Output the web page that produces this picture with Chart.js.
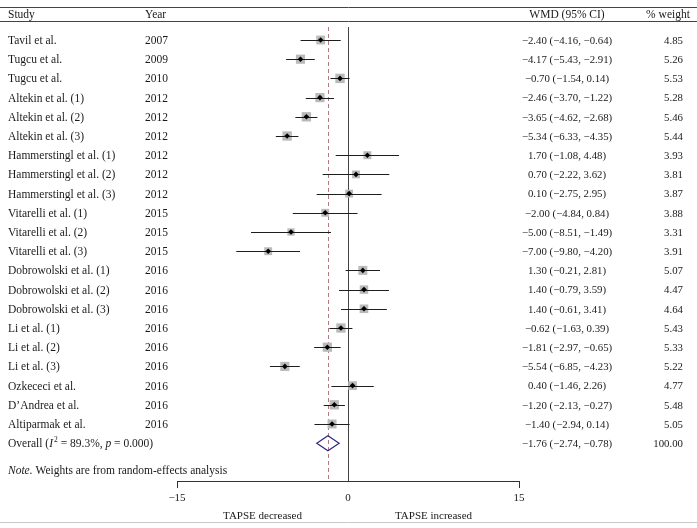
<!DOCTYPE html>
<html lang="en">
<head>
  <meta charset="UTF-8">
  <title>Forest plot TAPSE</title>
  <script src="https://cdn.jsdelivr.net/npm/chart.js"></script>
  <style>
    body { margin: 0; background: #fff; }
    #wrap { width: 697px; height: 528px; }
  </style>
</head>
<body>
  <div id="wrap">
    <canvas id="forest" width="697" height="528"></canvas>
  </div>

<script>
  // data
  const studies = ['Tavil et al.', 'Tugcu et al.', 'Tugcu et al.', 'Altekin et al. (1)', 'Altekin et al. (2)',
    'Altekin et al. (3)', 'Hammerstingl et al. (1)', 'Hammerstingl et al. (2)', 'Hammerstingl et al. (3)',
    'Vitarelli et al. (1)', 'Vitarelli et al. (2)', 'Vitarelli et al. (3)', 'Dobrowolski et al. (1)',
    'Dobrowolski et al. (2)', 'Dobrowolski et al. (3)', 'Li et al. (1)', 'Li et al. (2)', 'Li et al. (3)',
    'Ozkececi et al.', 'D\u2019Andrea et al.', 'Altiparmak et al.'];
  const years = [2007, 2009, 2010, 2012, 2012, 2012, 2012, 2012, 2012, 2015, 2015, 2015,
    2016, 2016, 2016, 2016, 2016, 2016, 2016, 2016, 2016];
  const wmd = [-2.40, -4.17, -0.70, -2.46, -3.65, -5.34, 1.70, 0.70, 0.10, -2.00, -5.00, -7.00,
    1.30, 1.40, 1.40, -0.62, -1.81, -5.54, 0.40, -1.20, -1.40];
  const ciLow = [-4.16, -5.43, -1.54, -3.70, -4.62, -6.33, -1.08, -2.22, -2.75, -4.84, -8.51, -9.80,
    -0.21, -0.79, -0.61, -1.63, -2.97, -6.85, -1.46, -2.13, -2.94];
  const ciHigh = [-0.64, -2.91, 0.14, -1.22, -2.68, -4.35, 4.48, 3.62, 2.95, 0.84, -1.49, -4.20,
    2.81, 3.59, 3.41, 0.39, -0.65, -4.23, 2.26, -0.27, 0.14];
  const weights = [4.85, 5.26, 5.53, 5.28, 5.46, 5.44, 3.93, 3.81, 3.87, 3.88, 3.31, 3.91,
    5.07, 4.47, 4.64, 5.43, 5.33, 5.22, 4.77, 5.48, 5.05];
  const overall = { est: -1.76, low: -2.74, high: -0.78, i2: '89.3%', p: '0.000', weight: '100.00' };
  const xTicks = [-15, 0, 15];

  const FONT = '"Liberation Serif", "DejaVu Serif", serif';
  const overallRow = studies.length + 1;

  function fmt(v) {
    return (v < 0 ? '\u2212' : '') + Math.abs(v).toFixed(2);
  }
  function ciText(e, l, h) {
    return fmt(e) + ' (' + fmt(l) + ', ' + fmt(h) + ')';
  }

  // box side grows with sqrt(weight); 'rect' point side = radius * sqrt(2)
  const boxRadius = weights.map(w => 4.0 * Math.sqrt(w) / Math.SQRT2);

  const caixas = wmd.map((v, i) => ({ x: v, y: i + 1 }));
  const pontos = wmd.map((v, i) => ({ x: v, y: i + 1 }));

  // ci lines go between the boxes and the black markers
  const ciPlugin = {
    id: 'ciLines',
    afterDatasetDraw(chart, args) {
      if (args.index !== 0) return;
      const { ctx, scales: { x, y } } = chart;
      ctx.save();
      ctx.strokeStyle = '#1e1e1e';
      ctx.lineWidth = 1;
      for (let i = 0; i < wmd.length; i++) {
        const py = Math.round(y.getPixelForValue(i + 1)) + 0.5;
        ctx.beginPath();
        ctx.moveTo(x.getPixelForValue(ciLow[i]), py);
        ctx.lineTo(x.getPixelForValue(ciHigh[i]), py);
        ctx.stroke();
      }
      ctx.restore();
    }
  };

  const refLinePlugin = {
    id: 'refLines',
    beforeDatasetsDraw(chart) {
      const { ctx, chartArea, scales: { x } } = chart;
      const px = Math.round(x.getPixelForValue(overall.est)) + 0.5;
      ctx.save();
      ctx.strokeStyle = '#b07a80';
      ctx.lineWidth = 1;
      ctx.setLineDash([4, 3]);
      ctx.beginPath();
      ctx.moveTo(px, chartArea.top);
      ctx.lineTo(px, chartArea.bottom);
      ctx.stroke();
      ctx.restore();
    },
    afterDatasetsDraw(chart) {
      // pooled estimate diamond
      const { ctx, scales: { x, y } } = chart;
      const cy = y.getPixelForValue(overallRow);
      ctx.save();
      ctx.strokeStyle = '#2e2a7a';
      ctx.lineWidth = 1.2;
      ctx.beginPath();
      ctx.moveTo(x.getPixelForValue(overall.low), cy);
      ctx.lineTo(x.getPixelForValue(overall.est), cy - 7.5);
      ctx.lineTo(x.getPixelForValue(overall.high), cy);
      ctx.lineTo(x.getPixelForValue(overall.est), cy + 7.5);
      ctx.closePath();
      ctx.stroke();
      ctx.restore();
    }
  };

  const tablePlugin = {
    id: 'tableText',
    afterDraw(chart) {
      const { ctx, width, scales: { x, y } } = chart;
      ctx.save();
      ctx.textBaseline = 'middle';
      ctx.fillStyle = '#1a1a1a';
      const fonte = '11.5px ' + FONT;
      const italico = 'italic 11.5px ' + FONT;
      const numeros = '10.8px ' + FONT;
      ctx.font = fonte;

      // rules
      ctx.strokeStyle = '#444';
      ctx.lineWidth = 1;
      ctx.beginPath();
      ctx.moveTo(0, 7.5); ctx.lineTo(width, 7.5);
      ctx.moveTo(0, 21.5); ctx.lineTo(width, 21.5);
      ctx.stroke();
      ctx.strokeStyle = '#c8c8c8';
      ctx.beginPath();
      ctx.moveTo(0, 522.5); ctx.lineTo(width, 522.5);
      ctx.stroke();

      // header
      ctx.textAlign = 'left';
      ctx.fillText('Study', 8, 15);
      ctx.fillText('Year', 145, 15);
      ctx.textAlign = 'center';
      ctx.fillText('WMD (95% CI)', 567, 15);
      ctx.fillText('% weight', 668, 15);

      // rows
      for (let i = 0; i < studies.length; i++) {
        const py = y.getPixelForValue(i + 1) + 1;
        ctx.font = fonte;
        ctx.textAlign = 'left';
        ctx.fillText(studies[i], 8, py);
        ctx.fillText(String(years[i]), 145, py);
        ctx.font = numeros;
        ctx.textAlign = 'center';
        ctx.fillText(ciText(wmd[i], ciLow[i], ciHigh[i]), 567, py);
        ctx.textAlign = 'right';
        ctx.fillText(weights[i].toFixed(2), 683, py);
      }

      // overall row with italic I² and p
      const oy = y.getPixelForValue(overallRow) + 1;
      ctx.textAlign = 'left';
      let cx = 8;
      const partes = [
        ['Overall (', fonte, 0], ['I', italico, 0], ['2', '7.5px ' + FONT, -4],
        [' = ' + overall.i2 + ', ', fonte, 0], ['p', italico, 0], [' = ' + overall.p + ')', fonte, 0]
      ];
      partes.forEach(([t, f, dy]) => {
        ctx.font = f;
        ctx.fillText(t, cx, oy + dy);
        cx += ctx.measureText(t).width + (t === 'I' ? 1 : 0);
      });
      ctx.font = numeros;
      ctx.textAlign = 'center';
      ctx.fillText(ciText(overall.est, overall.low, overall.high), 567, oy);
      ctx.textAlign = 'right';
      ctx.fillText(overall.weight, 683, oy);

      // note
      ctx.textAlign = 'left';
      ctx.font = italico;
      ctx.fillText('Note.', 8, 471);
      const w = ctx.measureText('Note. ').width;
      ctx.font = fonte;
      ctx.fillText('Weights are from random-effects analysis', 8 + w, 471);

      // direction labels under the axis
      ctx.font = '11px ' + FONT;
      ctx.textAlign = 'center';
      ctx.fillText('TAPSE decreased', x.getPixelForValue(-7.5), 516);
      ctx.fillText('TAPSE increased', x.getPixelForValue(7.5), 516);
      ctx.restore();
    }
  };

  const ctx = document.getElementById('forest').getContext('2d');

  const grafico = new Chart(ctx, {
    type: 'scatter',
    data: {
      datasets: [{
        label: 'Weight box',
        data: caixas,
        order: 2,
        pointStyle: 'rect',
        pointRadius: boxRadius,
        pointHoverRadius: boxRadius,
        backgroundColor: '#bababa',
        borderWidth: 0
      }, {
        label: 'WMD',
        data: pontos,
        order: 1,
        pointStyle: 'rectRot',
        pointRadius: 2.8,
        pointHoverRadius: 2.8,
        backgroundColor: '#000',
        borderWidth: 0
      }]
    },
    plugins: [ciPlugin, refLinePlugin, tablePlugin],
    options: {
      responsive: false,
      animation: false,
      layout: { padding: { left: 177, right: 178, top: 27, bottom: 0 } },
      plugins: {
        legend: { display: false },
        tooltip: { enabled: false }
      },
      scales: {
        x: {
          type: 'linear',
          min: -15,
          max: 15,
          afterBuildTicks: s => { s.ticks = xTicks.map(v => ({ value: v })); },
          afterFit: s => { s.height = 47; },
          border: { display: true, color: '#333', width: 1 },
          grid: {
            color: c => (c.tick && c.tick.value === 0 ? '#444' : 'transparent'),
            tickColor: c => (c.tick && c.tick.value === 0 ? 'transparent' : '#333'),
            tickLength: 7
          },
          ticks: {
            padding: 4,
            color: '#1a1a1a',
            font: { family: FONT, size: 11 },
            callback: v => String(v).replace('-', '\u2212')
          }
        },
        y: {
          type: 'linear',
          display: false,
          reverse: true,
          min: 0.323,
          max: 23.969
        }
      }
    }
  });
</script>
</body>
</html>
